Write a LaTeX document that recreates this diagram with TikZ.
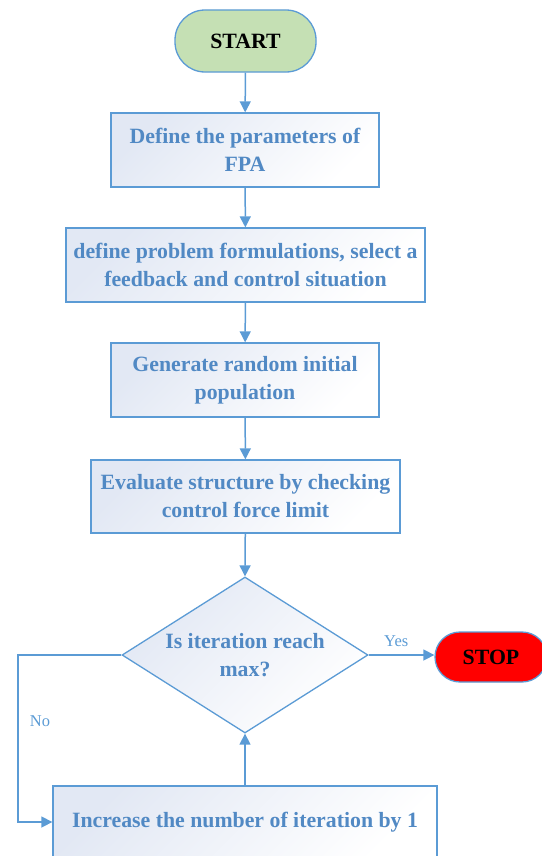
\documentclass[tikz,border=0pt]{standalone}
\usepackage{fontspec}
\setmainfont{Liberation Serif}
\usetikzlibrary{shapes.geometric,arrows.meta}
\definecolor{lineblue}{HTML}{5B9BD5}
\definecolor{textblue}{HTML}{5189C4}
\definecolor{tint}{HTML}{E2E8F4}
\definecolor{startgreen}{HTML}{C5E0B4}
\definecolor{stopred}{HTML}{FF0000}
\begin{document}
\begin{tikzpicture}[x=1bp,y=-1bp,
  boxtext/.style={text=textblue, font=\fontsize{21.8bp}{28bp}\selectfont\bfseries, align=center},
  box/.style={boxtext, draw=lineblue, line width=1.3bp, top color=tint, bottom color=white, shading angle=45, inner sep=0pt, minimum height=74bp},
  decision/.style={diamond, draw=lineblue, line width=1.3bp, top color=tint, bottom color=white, shading angle=45, inner sep=0pt, minimum width=246bp, minimum height=156bp, aspect=1.58},
  terminal/.style={draw=lineblue, line width=1.3bp, text=black, font=\fontsize{21.8bp}{28bp}\selectfont\bfseries, inner sep=0pt},
  conn/.style={draw=lineblue, line width=1.5bp, -{Triangle[length=11bp,width=11bp]}},
  lbl/.style={text=lineblue, font=\fontsize{16.5bp}{20bp}\selectfont}
]
\useasboundingbox (0,0) rectangle (542,856);
\clip (0,0) rectangle (542,856);

\node[terminal, fill=startgreen, rounded corners=30bp, minimum width=141bp, minimum height=62bp] (start) at (245.5,41) {START};
\node[box, minimum width=268bp] (b1) at (245,150) {Define the parameters of\\FPA};
\node[box, minimum width=359bp] (b2) at (245.5,265) {define problem formulations, select a\\feedback and control situation};
\node[box, minimum width=268bp] (b3) at (245,380) {Generate random initial\\population};
\node[box, minimum width=309bp, minimum height=73bp] (b4) at (245.5,496.5) {Evaluate structure by checking\\control force limit};
\node[decision, label={[boxtext]center:{Is iteration reach\\max?}}] (dia) at (245,655) {};
\node[terminal, fill=stopred, rounded corners=25bp, minimum width=112bp, minimum height=50bp] (stop) at (491,657) {STOP};
\node[box, minimum width=384bp, minimum height=72bp] (b5) at (245,822) {Increase the number of iteration by 1};
\coordinate (c1) at (18,655);
\coordinate (c2) at (18,822);

\draw[conn] (start) -- (b1);
\draw[conn] (b1) -- (b2);
\draw[conn] (b2) -- (b3);
\draw[conn] (b3) -- (b4);
\draw[conn] (b4) -- (dia.north);
\draw[conn] (dia.east) -- (stop.west |- dia.east) node[lbl, pos=0.42, above=4bp] (yes) {Yes};
\draw[conn] (dia.west) -- (c1) -- (c2) -- (b5.west);
\node[lbl] (no) at (40,721) {No};
\draw[conn] (b5.north) -- (dia.south);
\end{tikzpicture}
\end{document}
